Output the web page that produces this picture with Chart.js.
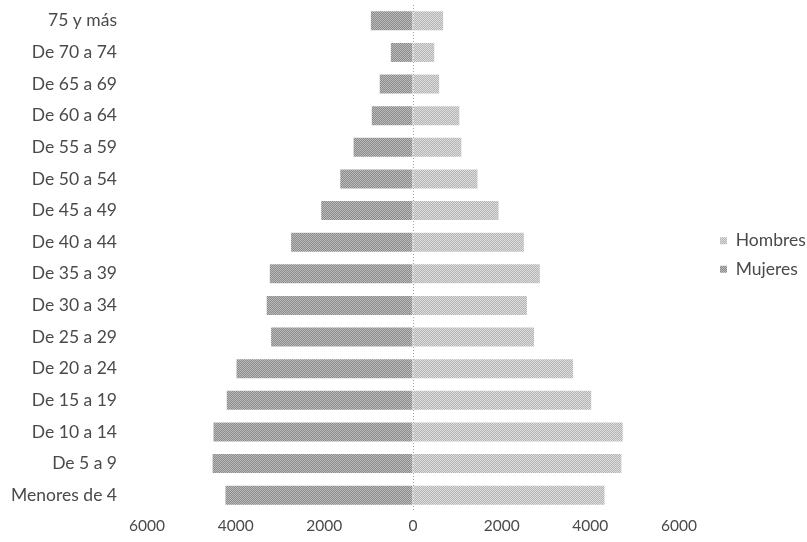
<!DOCTYPE html>
<html>
<head>
<meta charset="utf-8">
<script src="https://cdn.jsdelivr.net/npm/chart.js@4"></script>
<style>
  html, body { margin: 0; padding: 0; background: #ffffff; }
  #wrap { width: 807px; height: 542px; }
</style>
</head>
<body>
<div id="wrap"><canvas id="c" width="807" height="542"></canvas></div>
<script>
// Age groups, top to bottom
const categories = ["75 y más","De 70 a 74","De 65 a 69","De 60 a 64","De 55 a 59","De 50 a 54","De 45 a 49","De 40 a 44","De 35 a 39","De 30 a 34","De 25 a 29","De 20 a 24","De 15 a 19","De 10 a 14","De 5 a 9","Menores de 4"];
// Hombres (right side)
const hombres = [680, 480, 590, 1045, 1090, 1455, 1930, 2500, 2860, 2570, 2730, 3610, 4020, 4730, 4700, 4320];
// Mujeres (left side, drawn as negative)
const mujeres = [950, 500, 750, 930, 1340, 1640, 2070, 2750, 3230, 3300, 3200, 3980, 4200, 4500, 4520, 4230];
// Axis tick values
const xTicks = [-6000, -4000, -2000, 0, 2000, 4000, 6000];

function dither(c1, c2) {
  const p = document.createElement('canvas');
  p.width = 2; p.height = 2;
  const g = p.getContext('2d');
  g.fillStyle = c1; g.fillRect(0, 0, 2, 2);
  g.fillStyle = c2; g.fillRect(0, 0, 1, 1); g.fillRect(1, 1, 1, 1);
  return document.getElementById('c').getContext('2d').createPattern(p, 'repeat');
}

const ctx = document.getElementById('c').getContext('2d');
const fontFam = "Lato, 'Open Sans', sans-serif";
const textColor = '#4a4a4a';

// Legend placement helper: fixed legend column width, items positioned like the reference
const legendPlace = {
  id: 'legendPlace',
  beforeLayout(chart) {
    const lg = chart.legend;
    if (lg && !lg._patched) {
      const f = lg.fit.bind(lg);
      lg.fit = function () { f(); this.width = 128; };
      lg._patched = true;
    }
  },
  afterLayout(chart) {
    const lg = chart.legend;
    if (lg) {
      lg.left = 709;
      lg.top = 221;
    }
  }
};

new Chart(ctx, {
  type: 'bar',
  data: {
    labels: categories,
    datasets: [
      { label: 'Hombres', data: hombres, backgroundColor: dither('#b4b4b4', '#dddddd'), barPercentage: 0.6, categoryPercentage: 1.0 },
      { label: 'Mujeres', data: mujeres.map(v => -v), backgroundColor: dither('#8a8a8a', '#bcbcbc'), barPercentage: 0.6, categoryPercentage: 1.0 }
    ]
  },
  plugins: [legendPlace],
  options: {
    indexAxis: 'y',
    responsive: false,
    animation: false,
    layout: { padding: { left: 5, top: 5, right: 0, bottom: 0 } },
    plugins: {
      tooltip: { enabled: false },
      legend: {
        position: 'right',
        align: 'start',
        labels: {
          boxWidth: 7, boxHeight: 7, padding: 11,
          color: textColor,
          font: { family: fontFam, size: 17.5 }
        }
      }
    },
    scales: {
      x: {
        stacked: true,
        min: -6000, max: 6000,
        afterBuildTicks: s => { s.ticks = xTicks.map(v => ({ value: v })); },
        ticks: {
          callback: v => String(Math.abs(v)),
          color: textColor,
          font: { family: fontFam, size: 15.5 },
          padding: 6,
          maxRotation: 0
        },
        grid: {
          drawTicks: false,
          color: c => (c.tick && c.tick.value === 0) ? '#a0a0a0' : 'rgba(0,0,0,0)',
          lineWidth: c => (c.tick && c.tick.value === 0) ? 1 : 0
        },
        border: { display: false, dash: [1, 2] },
        afterFit: s => { s.height = 31; s.paddingLeft = 0; s.paddingRight = 0; }
      },
      y: {
        stacked: true,
        ticks: {
          color: textColor,
          font: { family: fontFam, size: 17.5 },
          padding: 3,
          autoSkip: false
        },
        grid: {
          display: true, drawOnChartArea: false, drawTicks: true,
          tickLength: 27, tickColor: 'rgba(0,0,0,0)', color: 'rgba(0,0,0,0)'
        },
        border: { display: false },
        afterFit: s => { s.width = 142; s.paddingTop = 0; s.paddingBottom = 0; }
      }
    }
  }
});
</script>
</body>
</html>
